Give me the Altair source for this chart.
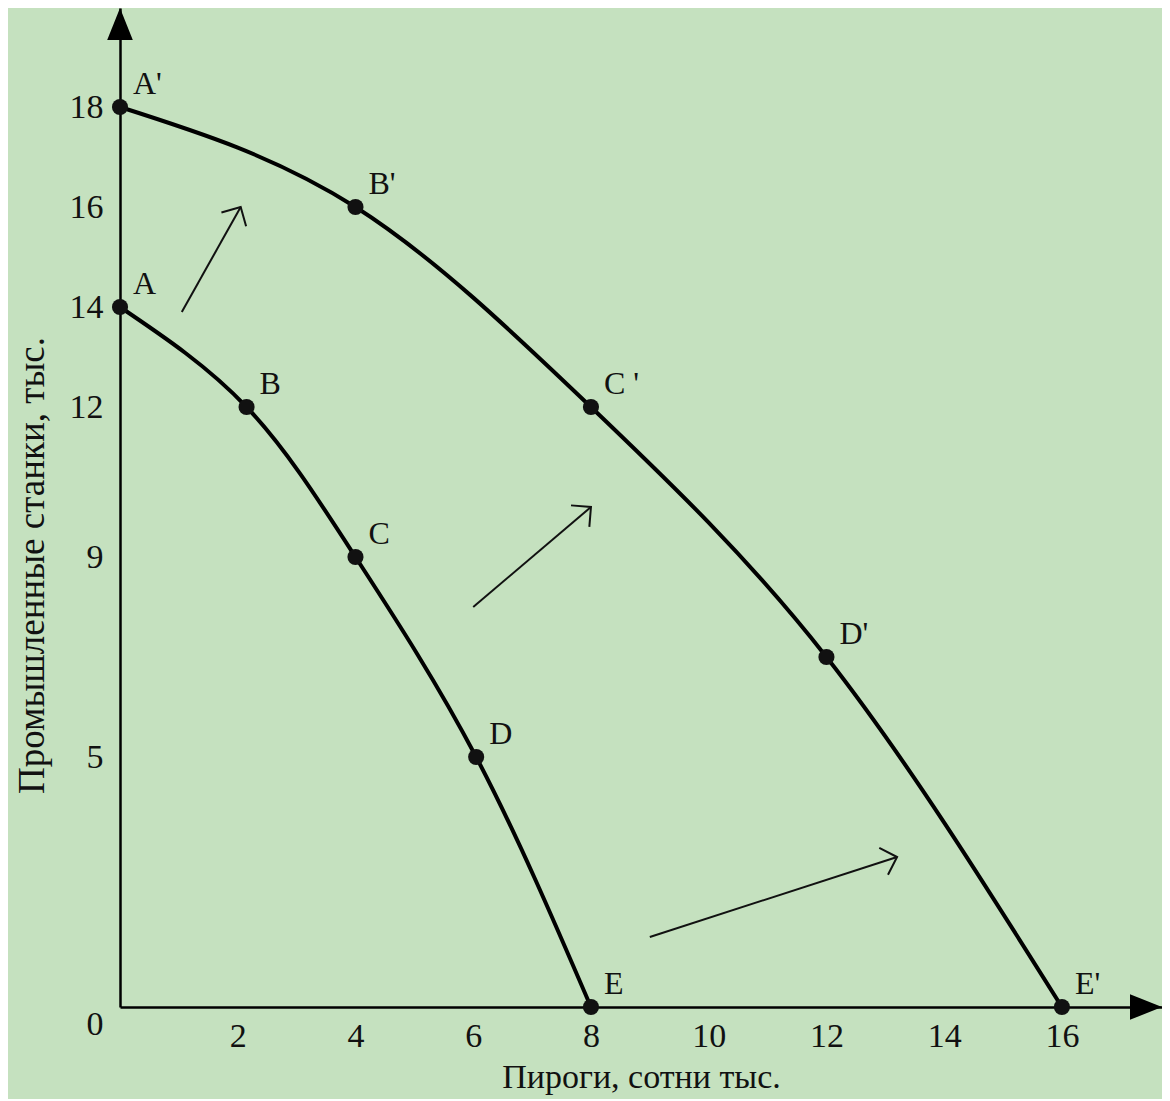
import math
import altair as alt
import pandas as pd

# ---- data ----
inner_labels = ["A", "B", "C", "D", "E"]
inner_x = [0, 2.15, 4.0, 6.05, 8]
inner_y = [14, 12, 9, 5, 0]

outer_labels = ["A'", "B'", "C '", "D'", "E'"]
outer_x = [0, 4, 8, 12, 16]
outer_y = [18, 16, 12, 7, 0]

arrow_x0 = [1.05, 6.0, 9.0]
arrow_y0 = [13.9, 8.0, 1.4]
arrow_x1 = [2.05, 8.0, 13.2]
arrow_y1 = [16.0, 10.0, 3.0]

x_ticks = [2, 4, 6, 8, 10, 12, 14, 16]
y_ticks = [18, 16, 14, 12, 9, 5]

X_MAX = 17.7
Y_MAX = 19.98
W = 1042
H = 999

FONT = "Liberation Serif"
INK = "#111111"

curve_df = pd.DataFrame(
    {
        "x": inner_x + outer_x,
        "y": inner_y + outer_y,
        "label": inner_labels + outer_labels,
        "series": ["inner"] * len(inner_x) + ["outer"] * len(outer_x),
        "order": list(range(len(inner_x))) + list(range(len(outer_x))),
    }
)

px_x = W / X_MAX
px_y = H / Y_MAX
angles = [
    math.degrees(math.atan2((x1 - x0) * px_x, (y1 - y0) * px_y)) % 360
    for x0, y0, x1, y1 in zip(arrow_x0, arrow_y0, arrow_x1, arrow_y1)
]
arrow_df = pd.DataFrame(
    {"x": arrow_x0, "y": arrow_y0, "x2": arrow_x1, "y2": arrow_y1, "angle": angles}
)

xs = alt.Scale(domain=[0, X_MAX], nice=False, zero=False)
ys = alt.Scale(domain=[0, Y_MAX], nice=False, zero=False)

base = alt.Chart(curve_df)

x_axis = alt.Axis(
    values=x_ticks,
    format="d",
    title="Пироги, сотни тыс.",
    grid=False,
    ticks=False,
    tickSize=0,
    domainColor="black",
    domainWidth=2.5,
    labelFont=FONT,
    labelFontSize=34,
    labelColor=INK,
    labelPadding=12,
    titleFont=FONT,
    titleFontSize=34,
    titleFontWeight="normal",
    titleColor=INK,
    titleY=70,
    titleBaseline="middle",
)
y_axis = alt.Axis(
    values=y_ticks,
    format="d",
    title="Промышленные станки, тыс.",
    grid=False,
    ticks=False,
    tickSize=0,
    domainColor="black",
    domainWidth=2.5,
    labelFont=FONT,
    labelFontSize=34,
    labelColor=INK,
    labelPadding=17,
    titleFont=FONT,
    titleFontSize=37,
    titleFontWeight="normal",
    titleColor=INK,
    titleX=-88,
    titleY=557,
    titleAngle=270,
    titleAlign="center",
    titleBaseline="middle",
)

lines = base.mark_line(
    color="black", strokeWidth=4, interpolate="natural"
).encode(
    x=alt.X("x:Q", scale=xs, axis=x_axis),
    y=alt.Y("y:Q", scale=ys, axis=y_axis),
    detail="series:N",
    order="order:Q",
)

points = base.mark_circle(size=260, color=INK, opacity=1).encode(
    x=alt.X("x:Q", scale=xs), y=alt.Y("y:Q", scale=ys)
)

labels = base.mark_text(
    font=FONT, fontSize=32, color=INK, align="left", baseline="middle", dx=13, dy=-23
).encode(x=alt.X("x:Q", scale=xs), y=alt.Y("y:Q", scale=ys), text="label:N")

origin = alt.Chart(pd.DataFrame({"x": [0], "y": [0], "t": ["0"]})).mark_text(
    font=FONT, fontSize=34, color=INK, align="center", baseline="middle", dx=-25, dy=18
).encode(x=alt.X("x:Q", scale=xs), y=alt.Y("y:Q", scale=ys), text="t:N")

shafts = alt.Chart(arrow_df).mark_rule(color=INK, strokeWidth=2).encode(
    x=alt.X("x:Q", scale=xs),
    y=alt.Y("y:Q", scale=ys),
    x2="x2:Q",
    y2="y2:Q",
)
heads = alt.Chart(arrow_df).mark_point(
    shape="M-1,1L0,0L1,1", size=800, filled=False, color=INK, strokeWidth=2, opacity=1
).encode(
    x=alt.X("x2:Q", scale=xs),
    y=alt.Y("y2:Q", scale=ys),
    angle=alt.Angle("angle:Q", scale=None),
)

axis_tips = pd.DataFrame({"x": [0, X_MAX], "y": [Y_MAX, 0], "axis": ["y", "x"]})
tip_y = alt.Chart(axis_tips[axis_tips["axis"] == "y"]).mark_point(
    shape="M0,0L0.8,2L-0.8,2Z", size=1024, filled=True, color="black", opacity=1
).encode(x=alt.X("x:Q", scale=xs), y=alt.Y("y:Q", scale=ys))
tip_x = alt.Chart(axis_tips[axis_tips["axis"] == "x"]).mark_point(
    shape="M0,0L-2,-0.8L-2,0.8Z", size=1024, filled=True, color="black", opacity=1
).encode(x=alt.X("x:Q", scale=xs), y=alt.Y("y:Q", scale=ys))

chart = (
    alt.layer(lines, shafts, heads, points, labels, origin, tip_y, tip_x)
    .properties(
        width=W,
        height=H,
        autosize=alt.AutoSizeParams(type="none"),
        padding={"left": 112, "top": 0, "right": 0, "bottom": 92},
        background="#c5e1bf",
    )
    .configure_view(stroke=None)
)

chart.save("out.html", embed_options={"renderer": "svg", "actions": False})
